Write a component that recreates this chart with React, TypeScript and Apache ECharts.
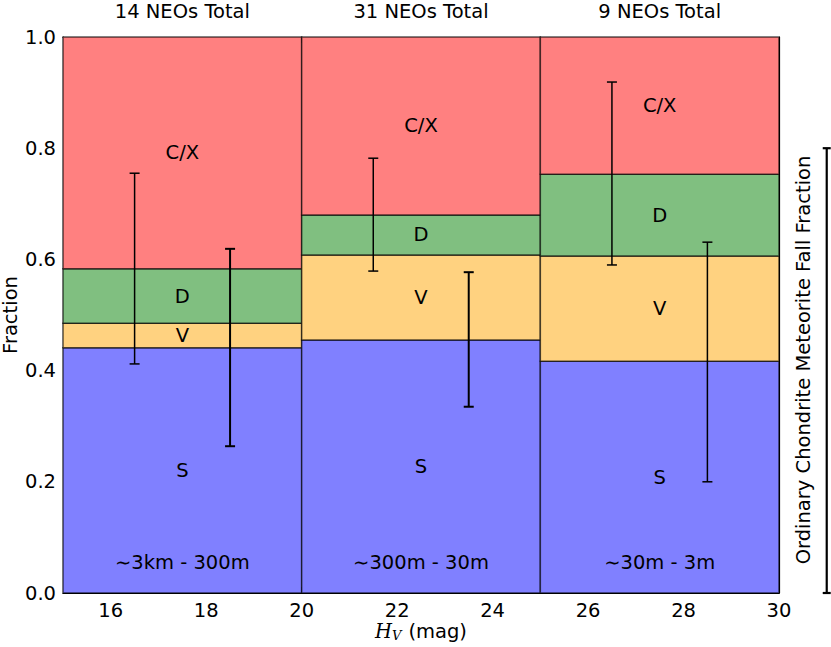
import React, { useEffect, useRef } from "react";
import * as echarts from "echarts";

// ---- data ----
const binEdges = [15, 20, 25, 30];
const binTitles = ["14 NEOs Total", "31 NEOs Total", "9 NEOs Total"];
const sizeLabels = ["∼3km - 300m", "∼300m - 30m", "∼30m - 3m"];
const classNames = ["S", "V", "D", "C/X"];
const classColors = ["#8080ff", "#ffd280", "#80bf80", "#ff8080"];
const fracS = [0.441, 0.455, 0.417];
const fracV = [0.044, 0.153, 0.189];
const fracD = [0.098, 0.072, 0.147];
const fracCX = [0.417, 0.32, 0.247];
const errX = [16.5, 18.5, 21.5, 23.5, 26.5, 28.5];
const errLow = [0.412, 0.264, 0.579, 0.335, 0.59, 0.2];
const errHigh = [0.755, 0.619, 0.782, 0.577, 0.919, 0.631];
const errWidth = [1.5, 2, 1.5, 2, 1.5, 1.5];
const ocFracX = [31];
const ocFracLow = [0];
const ocFracHigh = [0.8];
const xTicks = [16, 18, 20, 22, 24, 26, 28, 30];

const FONT = "DejaVu Sans";
const FS = 19.5;

export default function App() {
  const ref = useRef<HTMLDivElement>(null);
  useEffect(() => {
    const chart = echarts.init(ref.current!, null, { renderer: "svg" });
    const fracs = [fracS, fracV, fracD, fracCX];
    const rectData: number[][] = [];
    for (let b = 0; b < binTitles.length; b++) {
      let base = 0;
      for (let k = 0; k < classNames.length; k++) {
        const top = base + fracs[k][b];
        rectData.push([binEdges[b], binEdges[b + 1], base, top, k]);
        base = top;
      }
    }
    const errData = errX.map((x, i) => [x, errLow[i], errHigh[i]]);
    const ocData = ocFracX.map((x, i) => [x, ocFracLow[i], ocFracHigh[i]]);
    const centers = binTitles.map((_, b) => (binEdges[b] + binEdges[b + 1]) / 2);

    const tickStyle = { show: true, inside: true, length: 6, lineStyle: { color: "#000", width: 1 } };
    const axisLine = { show: true, onZero: false, lineStyle: { color: "#000", width: 1.2 } };

    const errRender = (lw: (i: number) => number, cap: number) => (params: any, api: any) => {
      const x = api.value(0);
      const p0 = api.coord([x, api.value(1)]);
      const p1 = api.coord([x, api.value(2)]);
      const w = lw(params.dataIndex);
      const st = { stroke: "#000", lineWidth: w };
      return {
        type: "group",
        children: [
          { type: "line", shape: { x1: p0[0], y1: p0[1], x2: p1[0], y2: p1[1] }, style: st },
          { type: "line", shape: { x1: p0[0] - cap, y1: p0[1], x2: p0[0] + cap, y2: p0[1] }, style: st },
          { type: "line", shape: { x1: p1[0] - cap, y1: p1[1], x2: p1[0] + cap, y2: p1[1] }, style: st },
        ],
      };
    };

    const textStyle = (text: string) => ({
      text,
      fontSize: FS,
      fontFamily: FONT,
      fill: "#000",
      align: "center",
      verticalAlign: "middle",
    });

    chart.setOption({
      animation: false,
      grid: { left: 63, right: 52, top: 37, bottom: 54, containLabel: false, outerBoundsMode: "none" },
      xAxis: [
        {
          type: "value",
          min: 15,
          max: 30,
          position: "bottom",
          axisLine,
          axisTick: { ...tickStyle, customValues: xTicks },
          axisLabel: { customValues: xTicks, color: "#000", fontSize: FS, fontFamily: FONT, margin: 7 },
          splitLine: { show: false },
          name: "{i|H}{s|V}{n|(mag)}",
          nameLocation: "middle",
          nameGap: 28,
          nameMoveOverlap: false,
          nameTextStyle: {
            rich: {
              i: { fontFamily: "DejaVu Serif", fontStyle: "italic", fontSize: FS, color: "#000" },
              s: { fontFamily: "DejaVu Serif", fontStyle: "italic", fontSize: 13, color: "#000", verticalAlign: "bottom", padding: [8, 0, 0, 0] },
              n: { fontFamily: FONT, fontSize: FS, color: "#000", padding: [0, 0, 0, 7] },
            },
          },
        },
        {
          type: "value",
          min: 15,
          max: 30,
          position: "top",
          axisLine,
          axisTick: { ...tickStyle, customValues: xTicks },
          axisLabel: { show: false },
          splitLine: { show: false },
        },
      ],
      yAxis: [
        {
          type: "value",
          min: 0,
          max: 1,
          interval: 0.2,
          position: "left",
          axisLine,
          axisTick: tickStyle,
          axisLabel: { color: "#000", fontSize: FS, fontFamily: FONT, margin: 7, formatter: (v: number) => v.toFixed(1) },
          splitLine: { show: false },
          name: "Fraction",
          nameLocation: "middle",
          nameGap: 43,
          nameMoveOverlap: false,
          nameTextStyle: { color: "#000", fontSize: FS, fontFamily: FONT },
        },
        {
          type: "value",
          min: 0,
          max: 1,
          interval: 0.2,
          position: "right",
          axisLine,
          axisTick: tickStyle,
          axisLabel: { show: false },
          splitLine: { show: false },
        },
      ],
      graphic: [
        {
          type: "text",
          x: 803,
          y: 360,
          rotation: Math.PI / 2,
          style: {
            text: "Ordinary Chondrite Meteorite Fall Fraction",
            fontSize: FS,
            fontFamily: FONT,
            fill: "#000",
            align: "center",
            verticalAlign: "middle",
          },
        },
      ],
      series: [
        {
          type: "custom",
          data: rectData,
          renderItem: (params: any, api: any) => {
            const x0 = api.value(0), x1 = api.value(1), y0 = api.value(2), y1 = api.value(3);
            const k = api.value(4);
            const tl = api.coord([x0, y1]);
            const br = api.coord([x1, y0]);
            const mid = api.coord([(x0 + x1) / 2, (y0 + y1) / 2]);
            return {
              type: "group",
              children: [
                {
                  type: "rect",
                  shape: { x: tl[0], y: tl[1], width: br[0] - tl[0], height: br[1] - tl[1] },
                  style: { fill: classColors[k], stroke: "rgba(0,0,0,0.65)", lineWidth: 1.5 },
                },
                { type: "text", x: mid[0], y: mid[1], style: textStyle(classNames[k]) },
              ],
            };
          },
        },
        {
          type: "custom",
          data: errData,
          z: 5,
          renderItem: errRender((i) => errWidth[i], 5),
        },
        {
          type: "custom",
          data: ocData,
          z: 5,
          clip: false,
          renderItem: errRender(() => 2.2, 4),
        },
        {
          type: "custom",
          data: centers.map((c) => [c, 1.046]),
          clip: false,
          renderItem: (params: any, api: any) => {
            const p = api.coord([api.value(0), api.value(1)]);
            return { type: "text", x: p[0], y: p[1], style: textStyle(binTitles[params.dataIndex]) };
          },
        },
        {
          type: "custom",
          data: centers.map((c) => [c, 0.054]),
          z: 4,
          renderItem: (params: any, api: any) => {
            const p = api.coord([api.value(0), api.value(1)]);
            return { type: "text", x: p[0], y: p[1], style: textStyle(sizeLabels[params.dataIndex]) };
          },
        },
      ],
    });
    return () => chart.dispose();
  }, []);
  return <div ref={ref} style={{ position: "absolute", left: 0, top: 0, width: 831, height: 647 }} />;
}
